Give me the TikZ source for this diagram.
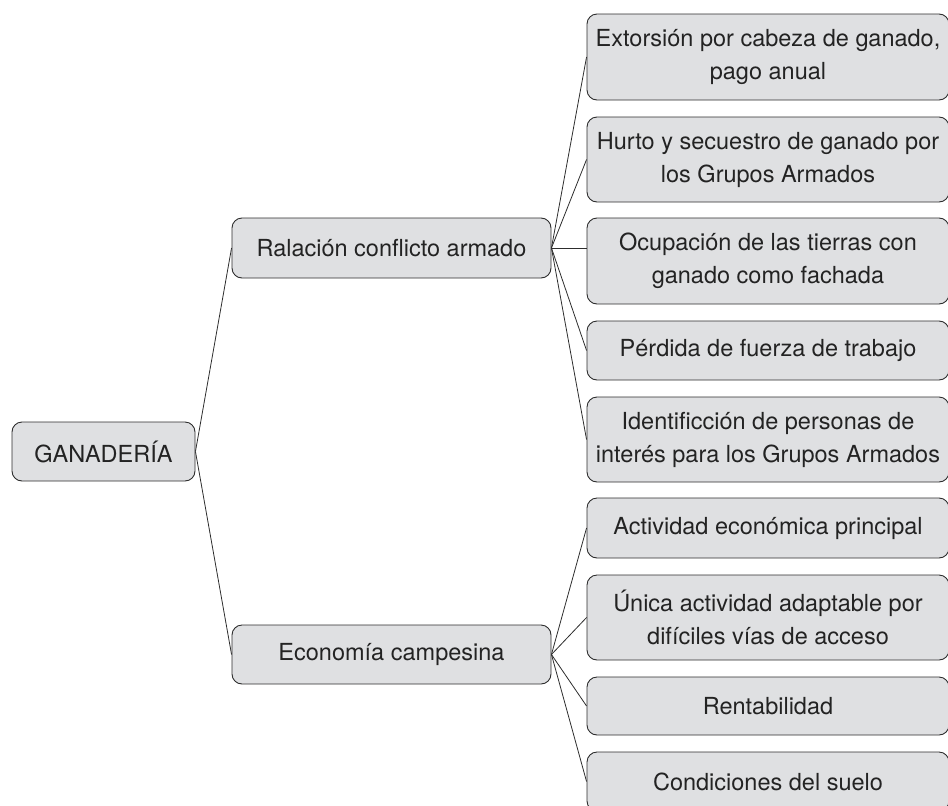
\documentclass[tikz,border=0pt]{standalone}
\usepackage{fontspec}
\setmainfont{TeX Gyre Heros}
\definecolor{boxgray}{RGB}{223,224,226}
\definecolor{edge}{RGB}{45,45,45}
\definecolor{ink}{RGB}{35,35,35}
\begin{document}
\begin{tikzpicture}[x=1pt,y=-1pt,
  box/.style={draw=edge, fill=boxgray, rounded corners=10pt, line width=0.9pt,
    align=center, inner sep=0pt, text=ink,
    font=\fontsize{23.5}{33}\selectfont},
  leaf/.style={box, minimum width=362pt},
  link/.style={draw=edge, line width=0.8pt}]
\useasboundingbox (0,0) rectangle (948,806);

\node[box, minimum width=183pt, minimum height=59pt] (g) at (103.5,451.5) {GANADER\'IA};
\node[box, minimum width=319pt, minimum height=60pt] (r) at (391.5,248) {Ralación conflicto armado};
\node[box, minimum width=319pt, minimum height=59pt] (e) at (391.5,654.5) {Economía campesina};

\node[leaf, minimum height=86pt] (b1) at (768,57) {Extorsión por cabeza de ganado,\\pago anual};
\node[leaf, minimum height=85pt] (b2) at (768,159.5) {Hurto y secuestro de ganado por\\los Grupos Armados};
\node[leaf, minimum height=86pt] (b3) at (768,261) {Ocupación de las tierras con\\ganado como fachada};
\node[leaf, minimum height=59pt] (b4) at (768,350.5) {Pérdida de fuerza de trabajo};
\node[leaf, minimum height=85pt] (b5) at (768,439.5) {Identificción de personas de\\interés para los Grupos Armados};
\node[leaf, minimum height=60pt] (b6) at (768,528) {Actividad económica principal};
\node[leaf, minimum height=85pt] (b7) at (768,617.5) {Única actividad adaptable por\\difíciles vías de acceso};
\node[leaf, minimum height=58pt] (b8) at (768,706) {Rentabilidad};
\node[leaf, minimum height=59pt] (b9) at (768,781.5) {Condiciones del suelo};

\draw[link] (g.east) -- (r.west);
\draw[link] (g.east) -- (e.west);
\draw[link] (r.east) -- (b1.west);
\draw[link] (r.east) -- (b2.west);
\draw[link] (r.east) -- (r.east -| b3.west);
\draw[link] (r.east) -- (b4.west);
\draw[link] (r.east) -- (b5.west);
\draw[link] (e.east) -- (b6.west);
\draw[link] (e.east) -- (b7.west);
\draw[link] (e.east) -- (b8.west);
\draw[link] (e.east) -- (b9.west);
\end{tikzpicture}
\end{document}
